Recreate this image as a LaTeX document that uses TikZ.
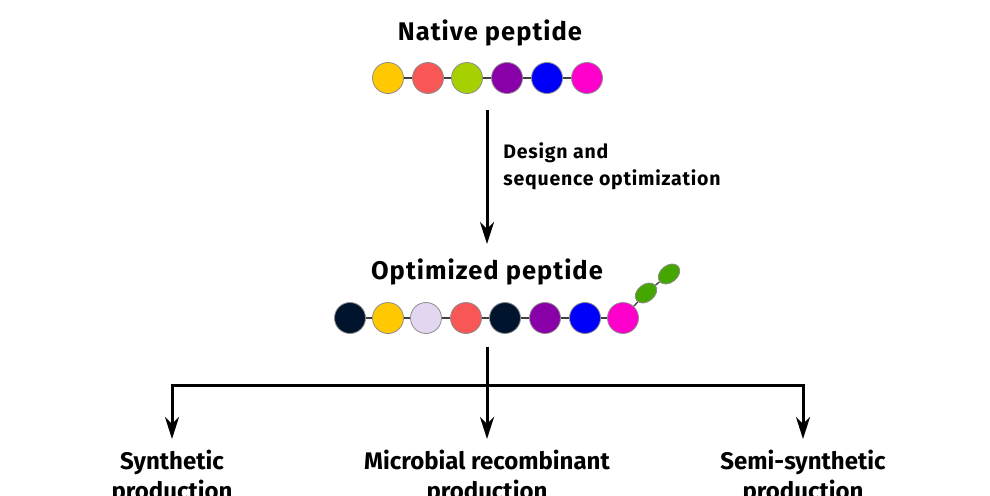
\documentclass[tikz,border=0pt]{standalone}
\usepackage{fontspec}
\setmainfont{Fira Sans}
\newfontfamily\spacedfont[LetterSpace=4]{Fira Sans}
\usetikzlibrary{arrows.meta,shapes.geometric}
\definecolor{resYellow}{HTML}{FFC800}
\definecolor{resRed}{HTML}{F95656}
\definecolor{resLime}{HTML}{A6D000}
\definecolor{resPurple}{HTML}{8A00A8}
\definecolor{resBlue}{HTML}{0000FA}
\definecolor{resPink}{HTML}{FF00CC}
\definecolor{resNavy}{HTML}{00142E}
\definecolor{resLilac}{HTML}{E2D6F0}
\definecolor{resGreen}{HTML}{45A600}
\begin{document}
\begin{tikzpicture}[x=1pt,y=-1pt,thick,
  res/.style={circle,draw=black!45,line width=0.8pt,minimum size=31pt,inner sep=0pt},
  glyco/.style={ellipse,draw=black!45,line width=0.8pt,fill=resGreen,minimum width=24pt,minimum height=17pt,inner sep=0pt,rotate=39},
  bond/.style={draw=black!75,line width=1.3pt},
  flow/.style={line width=3pt,-{Stealth[length=22pt,width=14pt,inset=7pt]}},
  headline/.style={font=\spacedfont\fontsize{25.5}{28}\selectfont\bfseries},
  route/.style={font=\fontsize{24}{30}\selectfont\bfseries,align=center,anchor=north,inner sep=0pt}]
  \path[use as bounding box,clip] (0,0) rectangle (990,495);
  \node[headline] (native) at (490,33) {Native peptide};
  \node[res,fill=resYellow] (n1) at (388,78) {};
  \node[res,fill=resRed] (n2) at (428,78) {};
  \node[res,fill=resLime] (n3) at (467,78) {};
  \node[res,fill=resPurple] (n4) at (507,78) {};
  \node[res,fill=resBlue] (n5) at (547,78) {};
  \node[res,fill=resPink] (n6) at (587,78) {};
  \draw[bond](n1)--(n2);
  \draw[bond](n2)--(n3);
  \draw[bond](n3)--(n4);
  \draw[bond](n4)--(n5);
  \draw[bond](n5)--(n6);
  \coordinate (down1) at (487,110);
  \coordinate (down2) at (487,244);
  \draw[flow](down1)--(down2);
  \node[font=\spacedfont\fontsize{19.5}{27}\selectfont\bfseries,align=left,anchor=west,inner sep=0pt] (step) at (503,166) {Design and\\sequence optimization};
  \node[headline] (optimized) at (487,272) {Optimized peptide};
  \node[res,fill=resNavy] (o1) at (350,318) {};
  \node[res,fill=resYellow] (o2) at (388,318) {};
  \node[res,fill=resLilac] (o3) at (426,318) {};
  \node[res,fill=resRed] (o4) at (466,318) {};
  \node[res,fill=resNavy] (o5) at (505,318) {};
  \node[res,fill=resPurple] (o6) at (545,318) {};
  \node[res,fill=resBlue] (o7) at (585,318) {};
  \node[res,fill=resPink] (o8) at (623,318) {};
  \node[glyco] (g1) at (646,293) {};
  \node[glyco] (g2) at (669,274) {};
  \draw[bond](o1)--(o2);
  \draw[bond](o2)--(o3);
  \draw[bond](o3)--(o4);
  \draw[bond](o4)--(o5);
  \draw[bond](o5)--(o6);
  \draw[bond](o6)--(o7);
  \draw[bond](o7)--(o8);
  \draw[bond](o8)--(g1);
  \draw[bond](g1)--(g2);
  \node[route] (synthetic) at (172,450) {Synthetic\\production};
  \node[route] (microbial) at (487,450) {Microbial recombinant\\production};
  \node[route] (semi) at (803,450) {Semi-synthetic\\production};
  \coordinate (split) at (487,347);
  \coordinate (hub) at (487,385);
  \draw[line width=3pt](split)--(hub);
  \draw[flow,shorten >=11pt](hub)-|(synthetic.north);
  \draw[flow,shorten >=11pt](hub)-|(semi.north);
  \draw[flow,shorten >=11pt](hub)--(microbial.north);
\end{tikzpicture}
\end{document}
